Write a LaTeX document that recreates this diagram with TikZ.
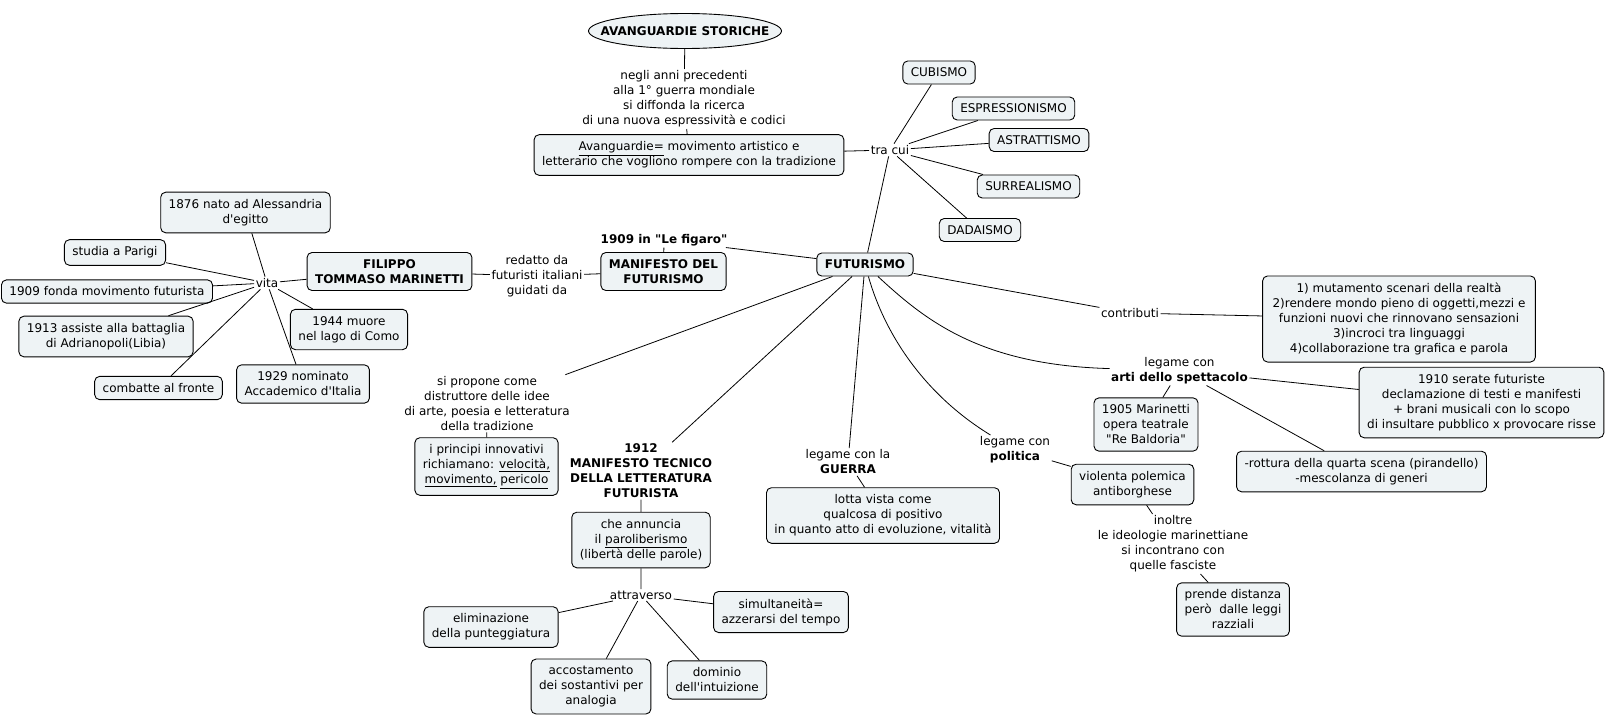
\documentclass[tikz,border=0pt]{standalone}
\usepackage{fontspec}
\setmainfont{DejaVu Sans}[Ligatures=TeXOff]
\usetikzlibrary{shapes.geometric}
\definecolor{cmapfill}{RGB}{238,243,245}

\begin{document}
\begin{tikzpicture}[
    x=1pt,y=-1pt,
    every node/.style={font={\fontsize{12}{15}\selectfont}},
    concept/.style={draw=black,fill=cmapfill,rounded corners=5pt,
        line width=0.9pt,align=center,inner xsep=8pt,inner ysep=7pt},
    phrase/.style={align=center,inner sep=1.5pt},
    boldtext/.style={font={\fontsize{12}{15}\selectfont\bfseries}},
    link/.style={line width=0.8pt},
    ]
        \useasboundingbox (0,0) rectangle (1606,718);
        % Avanguardie
        \node[ellipse,draw=black,fill=cmapfill,line width=0.9pt,inner xsep=-17pt,inner ysep=0pt,
            minimum width=193pt,minimum height=35pt,boldtext] (avst) at (685,31) {AVANGUARDIE STORICHE};
        \node[phrase] (anni) at (684,99) {negli anni precedenti\\alla 1° guerra mondiale\\si diffonda la ricerca\\di una nuova espressività e codici};
        \node[concept] (avang) at (689,155) {\underline{Avanguardie=} movimento artistico e\\letterario che vogliono rompere con la tradizione};
        \node[phrase] (tracui) at (890,150) {tra cui};
        \node[concept] (cub) at (939,72.5) {CUBISMO};
        \node[concept] (espr) at (1013.5,108.5) {ESPRESSIONISMO};
        \node[concept] (astr) at (1039,140) {ASTRATTISMO};
        \node[concept] (surr) at (1028.5,186.5) {SURREALISMO};
        \node[concept] (dada) at (980,230) {DADAISMO};

        % Futurismo and manifesto
        \node[concept,boldtext] (fut) at (865,264.5) {FUTURISMO};
        \node[phrase,boldtext] (figaro) at (664,240) {1909 in "Le figaro"};
        \node[concept,boldtext] (manif) at (663.5,271.5) {MANIFESTO DEL\\FUTURISMO};
        \node[phrase] (redatto) at (537,276) {redatto da\\futuristi italiani\\guidati da};

        % Marinetti
        \node[concept,boldtext] (fil) at (389.5,271.5) {FILIPPO\\TOMMASO MARINETTI};
        \node[phrase] (vita) at (267,283) {vita};
        \node[concept] (nato) at (245.5,212.5) {1876 nato ad Alessandria\\d'egitto};
        \node[concept] (parigi) at (115,252.5) {studia a Parigi};
        \node[concept] (fonda) at (107,291.5) {1909 fonda movimento futurista};
        \node[concept] (battaglia) at (106,336.5) {1913 assiste alla battaglia\\di Adrianopoli(Libia)};
        \node[concept] (fronte) at (158.5,388) {combatte al fronte};
        \node[concept] (muore) at (349,329.5) {1944 muore\\nel lago di Como};
        \node[concept] (accad) at (303,384) {1929 nominato\\Accademico d'Italia};

        % Tradizione
        \node[phrase] (propone) at (487,403.5) {si propone come\\distruttore delle idee\\di arte, poesia e letteratura\\della tradizione};
        \node[concept] (principi) at (486.5,466.5) {i principi innovativi\\richiamano: \underline{velocità,}\\\underline{movimento,} \underline{pericolo}};

        % Manifesto tecnico
        \node[phrase,boldtext] (tecnico) at (641,471) {1912\\MANIFESTO TECNICO\\DELLA LETTERATURA\\FUTURISTA};
        \node[concept] (annuncia) at (641,540) {che annuncia\\il \underline{paroliberismo}\\(libertà delle parole)};
        \node[phrase] (attrav) at (641,595) {attraverso};
        \node[concept] (punteg) at (491,627) {eliminazione\\della punteggiatura};
        \node[concept] (accost) at (591,686.5) {accostamento\\dei sostantivi per\\analogia};
        \node[concept] (intuiz) at (717,680) {dominio\\dell'intuizione};
        \node[concept] (simult) at (781,612) {simultaneità=\\azzerarsi del tempo};

        % Guerra, politica
        \node[phrase] (guerra) at (848,462) {legame con la\\\textbf{GUERRA}};
        \node[concept] (lotta) at (883,515.5) {lotta vista come\\qualcosa di positivo\\in quanto atto di evoluzione, vitalità};
        \node[phrase] (politica) at (1015,450) {legame con\\\textbf{politica}};
        \node[concept] (polemica) at (1132.5,484.5) {violenta polemica\\antiborghese};
        \node[phrase] (inoltre) at (1173,544) {inoltre\\le ideologie marinettiane\\si incontrano con\\quelle fasciste};
        \node[concept] (leggi) at (1233,609.5) {prende distanza\\però\ \ dalle leggi\\razziali};

        % Spettacolo, contributi
        \node[phrase] (arti) at (1179.5,370.5) {legame con\\\textbf{arti dello spettacolo}};
        \node[concept] (baldoria) at (1146,424.5) {1905 Marinetti\\opera teatrale\\"Re Baldoria"};
        \node[concept] (serate) at (1481.5,402.5) {1910 serate futuriste\\declamazione di testi e manifesti\\+ brani musicali con lo scopo\\di insultare pubblico x provocare risse};
        \node[concept] (rottura) at (1361.5,471.5) {-rottura della quarta scena (pirandello)\\-mescolanza di generi};
        \node[phrase] (contrib) at (1130,313) {contributi};
        \node[concept,inner xsep=10pt] (elenco) at (1399,319) {1) mutamento scenari della realtà\\2)rendere mondo pieno di oggetti,mezzi e\\funzioni nuovi che rinnovano sensazioni\\3)incroci tra linguaggi\\4)collaborazione tra grafica e parola};

        % Links
        \draw[link] (avst) -- (anni) -- (avang);
        \draw[link] (avang) -- (tracui) (fut) -- (tracui);
        \draw[link] (tracui) -- (cub) (tracui) -- (espr) (tracui) -- (astr)
            (tracui) -- (surr) (tracui) -- (dada);
        \draw[link] (fut) -- (figaro) -- (manif) -- (redatto) -- (fil) -- (vita);
        \draw[link] (vita) -- (nato) (vita) -- (parigi) (vita) -- (fonda) (vita) -- (battaglia)
            (vita) -- (fronte) (vita) -- (muore) (vita) -- (accad);
        \draw[link] (fut) -- (propone) -- (principi);
        \draw[link] (fut) -- (tecnico) -- (annuncia) -- (attrav);
        \draw[link] (attrav) -- (punteg) (attrav) -- (accost) (attrav) -- (intuiz) (attrav) -- (simult);
        \draw[link] (fut) -- (guerra) -- (lotta);
        \draw[link] (fut) .. controls (885,335) and (925,395) .. (politica);
        \draw[link] (politica) -- (polemica) -- (inoltre) -- (leggi);
        \draw[link] (fut) .. controls (925,320) and (980,365) .. (arti);
        \draw[link] (arti) -- (baldoria) (arti) -- (serate) (arti) -- (rottura);
        \draw[link] (fut) -- (contrib) -- (elenco);
    \end{tikzpicture}
\end{document}
